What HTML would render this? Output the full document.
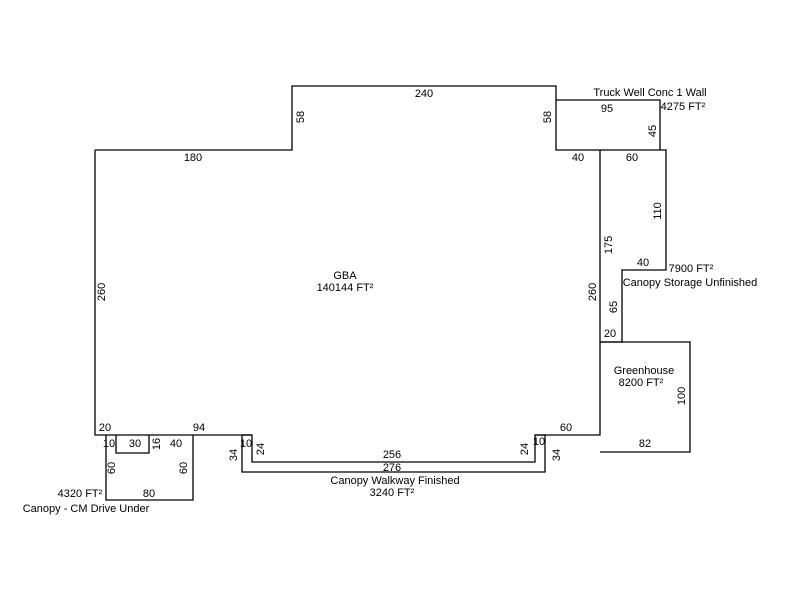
<!DOCTYPE html>
<html><head><style>
html,body{margin:0;padding:0;background:#fff;width:800px;height:600px;overflow:hidden}
svg text{font-family:"Liberation Sans",Arial,sans-serif;font-size:11px;fill:#000}
</style></head><body>
<svg width="800" height="600" viewBox="0 0 800 600" xmlns="http://www.w3.org/2000/svg">
<g fill="none" stroke="#000" stroke-width="1.3">
<polyline points="95,150 292,150 292,86 556,86 556,150 600,150 600,435 535,435 535,462 252,462 252,435 95,435 95,150"/>
<polyline points="242,435 242,472 545,472 545,435 535,435"/>
<polyline points="252,435 242,435"/>
<polyline points="106,435 106,500 193,500 193,435"/>
<polyline points="116,435 116,453 149,453 149,435"/>
<polyline points="556,100 660,100 660,150"/>
<polyline points="600,150 666,150 666,270 622,270 622,342 600,342"/>
<polyline points="600,342 690,342 690,452 600,452"/>
</g>
<g text-anchor="middle">
<text x="424" y="97">240</text>
<text x="193" y="161">180</text>
<text x="345" y="279">GBA</text>
<text x="345" y="291">140144 FT²</text>
<text x="105" y="431">20</text>
<text x="199" y="431">94</text>
<text x="109" y="447">10</text>
<text x="135" y="447">30</text>
<text x="176" y="447">40</text>
<text x="246" y="447">10</text>
<text x="539" y="445">10</text>
<text x="149" y="497">80</text>
<text x="80" y="497">4320 FT²</text>
<text x="86" y="512">Canopy - CM Drive Under</text>
<text x="392" y="458">256</text>
<text x="392" y="471">276</text>
<text x="395" y="484">Canopy Walkway Finished</text>
<text x="392" y="496">3240 FT²</text>
<text x="566" y="431">60</text>
<text x="578" y="161">40</text>
<text x="632" y="161">60</text>
<text x="607" y="112">95</text>
<text x="650" y="96">Truck Well Conc 1 Wall</text>
<text x="683" y="110">4275 FT²</text>
<text x="643" y="266">40</text>
<text x="691" y="272">7900 FT²</text>
<text x="690" y="286">Canopy Storage Unfinished</text>
<text x="610" y="337">20</text>
<text x="644" y="374">Greenhouse</text>
<text x="641" y="386">8200 FT²</text>
<text x="645" y="447">82</text>
</g>
<g text-anchor="middle">
<text transform="translate(304,117) rotate(-90)">58</text>
<text transform="translate(551,117) rotate(-90)">58</text>
<text transform="translate(656,131) rotate(-90)">45</text>
<text transform="translate(661,211) rotate(-90)">110</text>
<text transform="translate(612,245) rotate(-90)">175</text>
<text transform="translate(596,292) rotate(-90)">260</text>
<text transform="translate(617,307) rotate(-90)">65</text>
<text transform="translate(685,396) rotate(-90)">100</text>
<text transform="translate(105,292) rotate(-90)">260</text>
<text transform="translate(160,444) rotate(-90)">16</text>
<text transform="translate(115,468) rotate(-90)">60</text>
<text transform="translate(187,468) rotate(-90)">60</text>
<text transform="translate(237,455) rotate(-90)">34</text>
<text transform="translate(264,449) rotate(-90)">24</text>
<text transform="translate(528,449) rotate(-90)">24</text>
<text transform="translate(560,455) rotate(-90)">34</text>
</g>
</svg>
</body></html>
